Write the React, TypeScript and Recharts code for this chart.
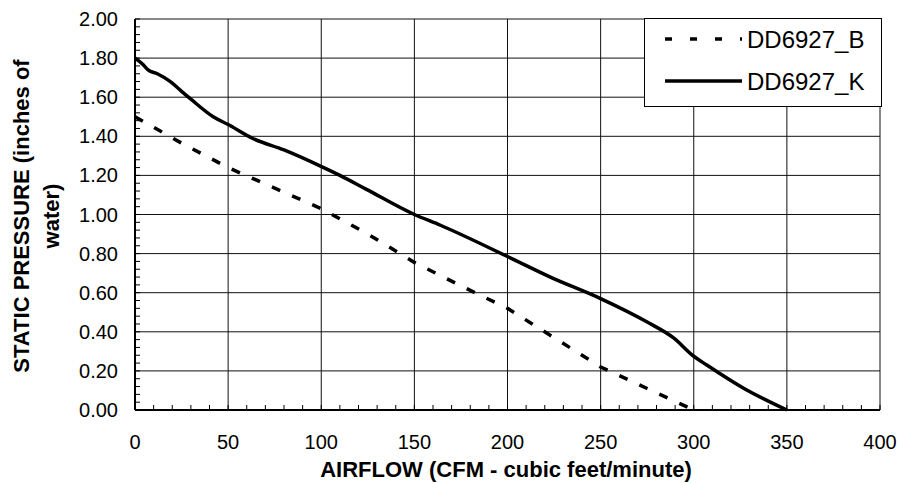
import React from "react";
import {
  LineChart,
  Line,
  XAxis,
  YAxis,
  CartesianGrid,
  Legend,
  Label,
} from "recharts";

// series B (dashed)
const bAirflow = [0, 25, 50, 75, 100, 125, 150, 175, 200, 225, 250, 275, 300];
const bPressure = [1.5, 1.365, 1.24, 1.135, 1.03, 0.9, 0.755, 0.635, 0.52, 0.37, 0.22, 0.11, 0.0];

// series K (solid)
const kAirflow = [0, 4, 7, 12, 19, 25, 30, 42, 50, 63, 80, 99, 110, 124, 150, 164, 200, 223, 250, 275, 289, 300, 307, 327, 350];
const kPressure = [1.8, 1.77, 1.74, 1.72, 1.68, 1.63, 1.59, 1.5, 1.46, 1.39, 1.33, 1.25, 1.2, 1.13, 1.0, 0.945, 0.785, 0.68, 0.57, 0.45, 0.37, 0.275, 0.23, 0.11, 0.0];

const seriesNames = ["DD6927_B", "DD6927_K"];

const xTicks = [0, 50, 100, 150, 200, 250, 300, 350, 400];
const yTicks = [0, 0.2, 0.4, 0.6, 0.8, 1.0, 1.2, 1.4, 1.6, 1.8, 2.0];
// minor tick marks (every 10 cfm, every 0.04 in.)
const xMinor = Array.from({ length: 41 }, (_, i) => i * 10);
const yMinor = Array.from({ length: 51 }, (_, i) => +(i * 0.04).toFixed(2));

const bData = bAirflow.map((x, i) => ({ cfm: x, p: bPressure[i] }));
const kData = kAirflow.map((x, i) => ({ cfm: x, p: kPressure[i] }));

const FONT = "'Liberation Sans', Arial, sans-serif";
const DASH = "9 13";

const isMajor = (v: number, list: number[]) => list.some((t) => Math.abs(t - v) < 1e-6);

function XTick({ x, y, payload }: any) {
  const v = payload.value;
  return (
    <g>
      <line x1={x} x2={x} y1={y} y2={y - 5} stroke="#000" strokeWidth={1} />
      {isMajor(v, xTicks) && (
        <text x={x} y={y + 39} textAnchor="middle" fontFamily={FONT} fontSize={20} fill="#000">
          {v}
        </text>
      )}
    </g>
  );
}

function YTick({ x, y, payload }: any) {
  const v = payload.value;
  return (
    <g>
      <line x1={x} x2={x + 5} y1={y} y2={y} stroke="#000" strokeWidth={1} />
      {isMajor(v, yTicks) && (
        <text x={x - 17} y={y + 7} textAnchor="end" fontFamily={FONT} fontSize={20} fill="#000">
          {v.toFixed(2)}
        </text>
      )}
    </g>
  );
}

function LegendBox() {
  return (
    <svg width={238} height={89} style={{ display: "block" }}>
      <rect x={0.5} y={0.5} width={237} height={88} fill="#fff" stroke="#000" />
      <line x1={21} x2={98} y1={21} y2={21} stroke="#000" strokeWidth={3.5} strokeDasharray="7 18" />
      <text x={103} y={30} fontFamily={FONT} fontSize={24}>{seriesNames[0]}</text>
      <line x1={21} x2={98} y1={63} y2={63} stroke="#000" strokeWidth={3.5} />
      <text x={103} y={72} fontFamily={FONT} fontSize={24}>{seriesNames[1]}</text>
    </svg>
  );
}

export default function App() {
  return (
    <div style={{ position: "absolute", left: 0, top: 0, width: 899, height: 483, background: "#fff" }}>
      <LineChart
        width={899}
        height={483}
        margin={{ top: 19, right: 19, bottom: 0, left: 0 }}
      >
        <CartesianGrid
          stroke="#111"
          strokeWidth={1}
          verticalValues={xTicks}
          horizontalValues={yTicks}
        />
        <XAxis
          dataKey="cfm"
          type="number"
          domain={[0, 400]}
          ticks={xMinor}
          interval={0}
          allowDataOverflow
          tickLine={false}
          tickSize={0}
          tickMargin={0}
          axisLine={{ stroke: "#000", strokeWidth: 2 }}
          tick={<XTick />}
          height={73}
        >
          <Label
            content={() => (
              <text
                x={506}
                y={477}
                textAnchor="middle"
                fontFamily={FONT}
                fontWeight="bold"
                fontSize={22}
                fill="#000"
              >
                AIRFLOW (CFM - cubic feet/minute)
              </text>
            )}
          />
        </XAxis>
        <YAxis
          type="number"
          domain={[0, 2]}
          ticks={yMinor}
          interval={0}
          width={135}
          tickLine={false}
          tickSize={0}
          tickMargin={0}
          axisLine={{ stroke: "#000", strokeWidth: 2 }}
          tick={<YTick />}
        >
          <Label
            content={() => (
              <text
                transform="translate(29,216) rotate(-90)"
                textAnchor="middle"
                fontFamily={FONT}
                fontWeight="bold"
                fontSize={22}
                fill="#000"
              >
                <tspan x={0} dy={0}>STATIC PRESSURE (inches of</tspan>
                <tspan x={0} dy={30}>water)</tspan>
              </text>
            )}
          />
        </YAxis>
        <Legend
          layout="vertical"
          align="center"
          verticalAlign="middle"
          content={() => <LegendBox />}
          wrapperStyle={{ left: 644, top: 18, width: 238, height: 89 }}
        />
        <Line
          data={bData}
          dataKey="p"
          name={seriesNames[0]}
          type="linear"
          stroke="#000"
          strokeWidth={3.5}
          strokeDasharray={DASH}
          dot={false}
          activeDot={false}
          isAnimationActive={false}
        />
        <Line
          data={kData}
          dataKey="p"
          name={seriesNames[1]}
          type="monotone"
          stroke="#000"
          strokeWidth={3.5}
          dot={false}
          activeDot={false}
          isAnimationActive={false}
        />
      </LineChart>
    </div>
  );
}
